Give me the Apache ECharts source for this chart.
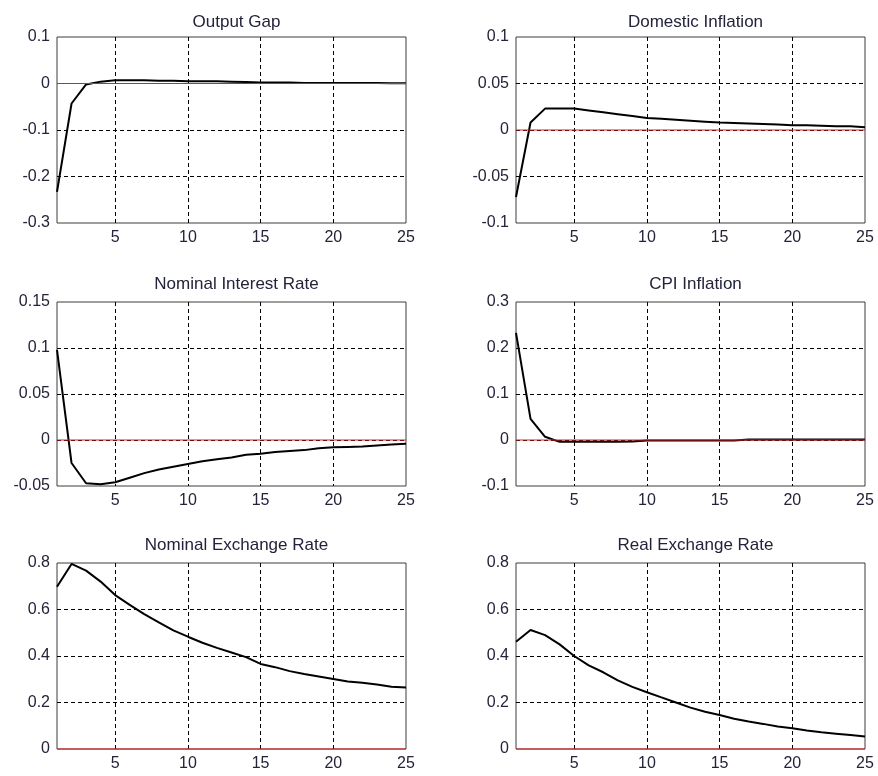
<!DOCTYPE html>
<html>
<head>
<meta charset="utf-8">
<script src="https://cdn.jsdelivr.net/npm/echarts@6/dist/echarts.min.js"></script>
<style>html,body{margin:0;padding:0;background:#fff}#c{width:878px;height:776px}</style>
</head>
<body>
<div id="c"></div>
<script>
var periods = [1,2,3,4,5,6,7,8,9,10,11,12,13,14,15,16,17,18,19,20,21,22,23,24,25];
var xTickLabels = [5,10,15,20,25];
var xGridTicks = [1,5,10,15,20,25];
var zeroLineX = [1, 25];
var zeroLineY = [0, 0];

var titles = ['Output Gap','Domestic Inflation','Nominal Interest Rate','CPI Inflation','Nominal Exchange Rate','Real Exchange Rate'];

var outputGap = [-0.233,-0.043,-0.002,0.004,0.007,0.007,0.007,0.006,0.006,0.005,0.005,0.005,0.004,0.003,0.002,0.002,0.002,0.001,0.001,0.001,0.001,0.001,0.001,0.0005,0.0005];
var domesticInflation = [-0.072,0.008,0.023,0.023,0.023,0.021,0.019,0.017,0.015,0.013,0.012,0.011,0.010,0.009,0.008,0.0075,0.007,0.0065,0.006,0.005,0.005,0.0045,0.004,0.004,0.003];
var nominalInterest = [0.098,-0.025,-0.047,-0.048,-0.046,-0.041,-0.036,-0.032,-0.029,-0.026,-0.023,-0.021,-0.019,-0.016,-0.015,-0.013,-0.012,-0.011,-0.009,-0.008,-0.0075,-0.007,-0.006,-0.005,-0.004];
var cpiInflation = [0.233,0.046,0.007,-0.004,-0.004,-0.004,-0.004,-0.004,-0.003,-0.001,-0.001,-0.001,-0.001,-0.001,-0.001,-0.001,0.001,0.001,0.001,0.001,0.001,0.001,0.001,0.001,0.001];
var nominalExchange = [0.698,0.796,0.767,0.72,0.662,0.62,0.58,0.545,0.51,0.483,0.457,0.435,0.415,0.395,0.366,0.352,0.335,0.323,0.312,0.301,0.29,0.285,0.277,0.268,0.264];
var realExchange = [0.461,0.512,0.49,0.45,0.40,0.36,0.33,0.295,0.267,0.244,0.222,0.20,0.178,0.16,0.146,0.13,0.118,0.108,0.097,0.089,0.08,0.072,0.066,0.06,0.054];

var seriesValues = [outputGap, domesticInflation, nominalInterest, cpiInflation, nominalExchange, realExchange];
var yMin = [-0.3,-0.1,-0.05,-0.1,0,0];
var yMax = [0.1,0.1,0.15,0.3,0.8,0.8];
var yStep = [0.1,0.05,0.05,0.1,0.2,0.2];

var grids = [
  {left:57, top:37, width:349, height:186},
  {left:516, top:37, width:349, height:186},
  {left:57, top:302, width:349, height:184},
  {left:516, top:302, width:349, height:184},
  {left:57, top:563, width:349, height:186},
  {left:516, top:563, width:349, height:186}
];
var titleY = [20, 20, 282, 282, 543, 543];

var textColor = '#23233a';
var fontFam = 'Arial, "Liberation Sans", sans-serif';

var option = {
  animation:false,
  backgroundColor:'#fff',
  title: [], grid: [], xAxis: [], yAxis: [], series: []
};

for (var i=0;i<6;i++){
  var g = grids[i];
  option.grid.push({left:g.left, top:g.top, width:g.width, height:g.height, show:true, borderColor:'#3c3c3c', borderWidth:1, backgroundColor:'#fff'});
  option.title.push({
    text: titles[i], left: g.left + g.width/2, top: titleY[i] - 11, textAlign:'center',
    textStyle:{fontSize:17, fontWeight:'normal', color:textColor, fontFamily:fontFam}
  });
  option.xAxis.push({
    type:'value', gridIndex:i, min:1, max:25,
    axisLine:{show:false},
    axisTick:{show:false, customValues:xGridTicks},
    axisLabel:{customValues:xTickLabels, fontSize:16, color:textColor, fontFamily:fontFam, margin:7},
    splitLine:{show:true, showMinLine:false, showMaxLine:false, lineStyle:{color:'#000', width:1, type:[4,3]}}
  });
  option.yAxis.push({
    type:'value', gridIndex:i, min:yMin[i], max:yMax[i], interval:yStep[i],
    axisLine:{show:false}, axisTick:{show:false},
    axisLabel:{fontSize:16, color:textColor, fontFamily:fontFam, margin:7},
    splitLine:{show:true, showMinLine:false, showMaxLine:false, lineStyle:{color:'#000', width:1, type:[4,3]}}
  });
  var d = periods.map(function(p, k){ return [p, seriesValues[i][k]]; });
  option.series.push({
    type:'line', xAxisIndex:i, yAxisIndex:i, data:d, showSymbol:false, symbol:'none', z:2,
    lineStyle:{color:'#000', width:2}, silent:true
  });
  option.series.push({
    type:'line', xAxisIndex:i, yAxisIndex:i, z:8, silent:true, clip:false,
    showSymbol:false, symbol:'none',
    data: zeroLineX.map(function(x, k){ return [x, zeroLineY[k]]; }),
    lineStyle:{color:'#e0201f', width:1, type:'solid'}
  });
}

var chart = echarts.init(document.getElementById('c'), null, {renderer:'canvas'});
chart.setOption(option);
</script>
</body>
</html>
